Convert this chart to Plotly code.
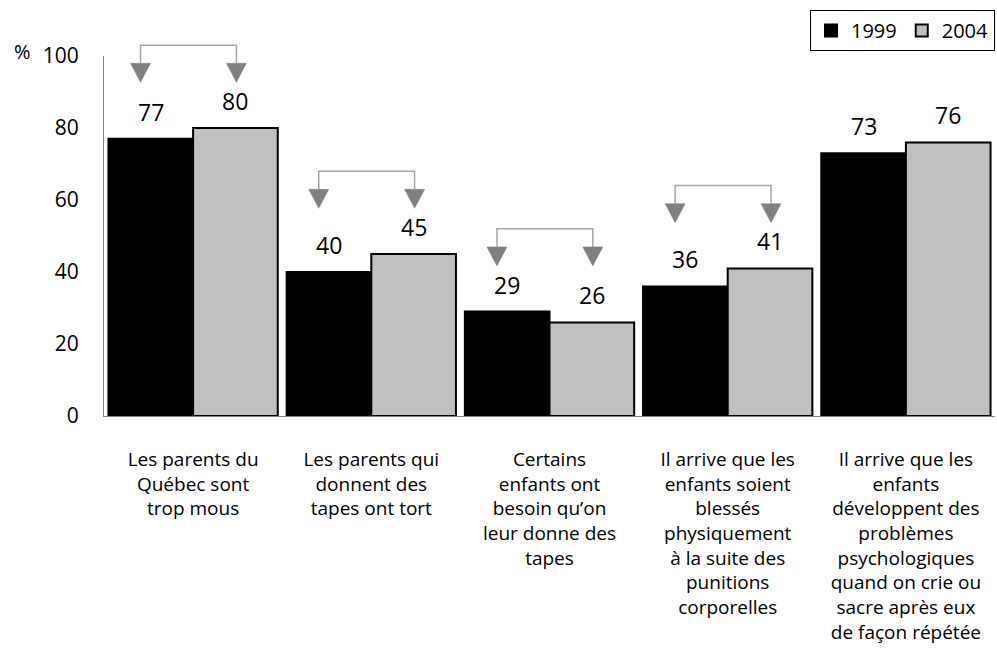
import plotly.graph_objects as go

categories = [
    "Les parents du<br>Québec sont<br>trop mous",
    "Les parents qui<br>donnent des<br>tapes ont tort",
    "Certains<br>enfants ont<br>besoin qu’on<br>leur donne des<br>tapes",
    "Il arrive que les<br>enfants soient<br>blessés<br>physiquement<br>à la suite des<br>punitions<br>corporelles",
    "Il arrive que les<br>enfants<br>développent des<br>problèmes<br>psychologiques<br>quand on crie ou<br>sacre après eux<br>de façon répétée",
]
values_1999 = [77, 40, 29, 36, 73]
values_2004 = [80, 45, 26, 41, 76]
arrow_groups = [0, 1, 2, 3]  # groups that have the comparison bracket
y_ticks = [0, 20, 40, 60, 80, 100]

FONT = "Open Sans"
W, H = 997, 671
ML, MR, MT, MB = 104, 2, 56, 255
PW, PH = W - ML - MR, H - MT - MB
N = len(categories)
xs = list(range(N))
half = 0.2375

fig = go.Figure()
fig.add_trace(go.Bar(
    x=xs, y=values_1999, name="1999",
    marker=dict(color="#000000", line=dict(color="#000000", width=2)),
))
fig.add_trace(go.Bar(
    x=xs, y=values_2004, name="2004",
    marker=dict(color="#c0c0c0", line=dict(color="#000000", width=2)),
))


def xp(x):
    return (x + 0.5) / N


def yp(v):
    return v / 100.0


shapes = []
annotations = []

# data labels
for i in xs:
    for off, v in ((-half, values_1999[i]), (half, values_2004[i])):
        annotations.append(dict(
            x=i + off, y=v, xref="x", yref="y", text=str(v), showarrow=False,
            yshift=27, font=dict(family=FONT, size=23, color="#000000"),
        ))

# brackets with arrows
tri_w = 10.0 / PW
tri_h = 19.0 / PH
for g in arrow_groups:
    top = max(values_1999[g], values_2004[g]) + 23
    tip = top - 10.3
    xl = xp(g - 0.295)
    xr = xp(g + 0.243)
    ytop = yp(top)
    ytip = yp(tip)
    ytri = ytip + tri_h
    shapes.append(dict(
        type="path", xref="paper", yref="paper",
        path=f"M{xl},{ytri} L{xl},{ytop} L{xr},{ytop} L{xr},{ytri}",
        line=dict(color="#a6a6a6", width=1.5),
    ))
    for xc in (xl, xr):
        shapes.append(dict(
            type="path", xref="paper", yref="paper",
            path=f"M{xc - tri_w},{ytri} L{xc + tri_w},{ytri} L{xc},{ytip} Z",
            fillcolor="#808080", line=dict(color="#808080", width=0.5),
        ))

annotations.append(dict(
    x=(22 - ML) / PW, y=1 + 5.0 / PH, xref="paper", yref="paper", text="%",
    showarrow=False, xanchor="center", yanchor="middle",
    font=dict(family=FONT, size=20, color="#000000"),
))

fig.update_layout(
    width=W, height=H,
    margin=dict(l=ML, r=MR, t=MT, b=MB),
    paper_bgcolor="white", plot_bgcolor="white",
    barmode="group", bargap=0.05, bargroupgap=0,
    font=dict(family=FONT, size=20, color="#000000"),
    showlegend=True,
    legend=dict(
        orientation="h", x=1, xanchor="right", y=1 + 46.0 / PH, yanchor="top",
        bordercolor="#000000", borderwidth=1, bgcolor="white",
        font=dict(family=FONT, size=20, color="#000000"),
        itemwidth=30, traceorder="normal",
    ),
    xaxis=dict(
        range=[-0.5, N - 0.5], tickmode="array", tickvals=xs, ticktext=categories,
        showline=True, linecolor="#808080", linewidth=1, ticks="",
        showgrid=False, zeroline=False, ticklabelstandoff=26,
        tickfont=dict(family=FONT, size=19, color="#000000"),
    ),
    yaxis=dict(
        range=[0, 100], tickmode="array", tickvals=y_ticks,
        showline=True, linecolor="#808080", linewidth=1, ticks="",
        showgrid=False, zeroline=False, ticklabelstandoff=20,
        tickfont=dict(family=FONT, size=21, color="#000000"),
    ),
    shapes=shapes,
    annotations=annotations,
)

fig.write_html(
    "out.html",
    config={"displayModeBar": False},
    post_script="document.body.style.margin='0px';",
)
